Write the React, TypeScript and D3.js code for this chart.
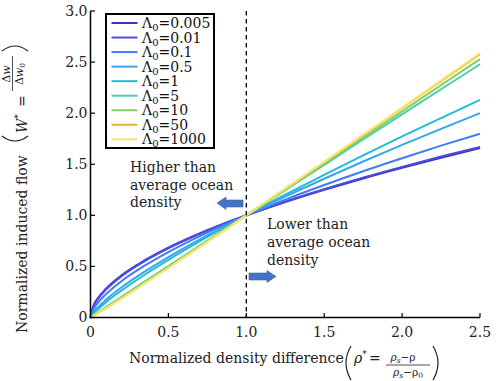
import React from "react";
import * as d3 from "d3";

// sampled curve positions (normalized density difference)
const rhoStar = [0, 0.02, 0.05, 0.1, 0.2, 0.35, 0.5, 0.75, 1, 1.25, 1.5, 1.75, 2, 2.25, 2.5];

const lambdaLabels = ["0.005", "0.01", "0.1", "0.5", "1", "5", "10", "50", "1000"];
const lineColors = ["#3f30c0", "#4b4de6", "#3f7cf6", "#37a6ee", "#20bcd6", "#47d0a6", "#84d064", "#e2b627", "#fbe36c"];

const w0005 = [0, 0.115, 0.191, 0.28, 0.411, 0.559, 0.682, 0.853, 1, 1.131, 1.251, 1.363, 1.467, 1.566, 1.66];
const w001 = [0, 0.112, 0.187, 0.275, 0.406, 0.555, 0.678, 0.851, 1, 1.133, 1.255, 1.369, 1.474, 1.575, 1.67];
const w01 = [0, 0.081, 0.147, 0.229, 0.357, 0.51, 0.641, 0.831, 1, 1.154, 1.297, 1.432, 1.559, 1.682, 1.799];
const w05 = [0, 0.052, 0.104, 0.175, 0.296, 0.452, 0.592, 0.804, 1, 1.184, 1.358, 1.527, 1.689, 1.846, 2.0];
const w1 = [0, 0.04, 0.084, 0.15, 0.265, 0.421, 0.564, 0.788, 1, 1.202, 1.397, 1.587, 1.772, 1.952, 2.13];
const w5 = [0, 0.021, 0.051, 0.102, 0.203, 0.353, 0.503, 0.752, 1, 1.247, 1.494, 1.742, 1.988, 2.234, 2.479];
const w10 = [0, 0.019, 0.048, 0.097, 0.196, 0.345, 0.496, 0.747, 1, 1.254, 1.507, 1.763, 2.018, 2.275, 2.529];
const w50 = [0, 0.018, 0.045, 0.092, 0.189, 0.338, 0.488, 0.742, 1, 1.26, 1.52, 1.784, 2.048, 2.314, 2.578];
const w1000 = [0, 0.018, 0.045, 0.091, 0.188, 0.337, 0.487, 0.741, 1, 1.261, 1.523, 1.787, 2.053, 2.32, 2.586];
const seriesValues = [w0005, w001, w01, w05, w1, w5, w10, w50, w1000];

const xTicks = [0, 0.5, 1, 1.5, 2, 2.5];
const yTicks = [0, 0.5, 1, 1.5, 2, 2.5, 3];

const FONT = "DejaVu Serif";

export default function App() {
  const width = 496, height = 381;
  const x = d3.scaleLinear().domain([0, 2.5]).range([90.5, 480]);
  const y = d3.scaleLinear().domain([0, 3]).range([317.5, 11]);
  const fmt = (v: number) => (v === 0 ? "0" : d3.format(".1f")(v));

  const line = d3.line<number>()
    .x((_, i) => x(rhoStar[i]))
    .y(d => y(d))
    .curve(d3.curveMonotoneX);

  const legendRow = d3.scalePoint<string>().domain(lambdaLabels).range([23, 139.3]);

  return (
    <svg width={width} height={height} style={{ position: "absolute", left: 0, top: 0 }}
      fontFamily={FONT} fontSize={14}>
      <rect width={width} height={height} fill="#fff" />

      {/* curves */}
      {seriesValues.map((vals, i) => (
        <path key={i} d={line(vals) ?? ""} fill="none" stroke={lineColors[i]}
          strokeWidth={i === 0 ? 2.4 : 2} />
      ))}

      {/* dashed line at rho* = 1 */}
      <line x1={x(1)} x2={x(1)} y1={y(3)} y2={y(0)} stroke="#000" strokeWidth={1.3} strokeDasharray="4.5,3.5" />

      {/* axes */}
      <line x1={x(0)} x2={x(0)} y1={y(3)} y2={y(0) + 0.75} stroke="#000" strokeWidth={1.5} />
      <line x1={x(0) - 0.75} x2={x(2.5)} y1={y(0)} y2={y(0)} stroke="#000" strokeWidth={1.5} />
      {yTicks.map(t => (
        <g key={"y" + t}>
          <line x1={x(0)} x2={x(0) + 4.5} y1={y(t)} y2={y(t)} stroke="#000" strokeWidth={1.2} />
          <text x={x(0) - 3} y={y(t)} dy="0.35em" textAnchor="end" fill="#222">{fmt(t)}</text>
        </g>
      ))}
      {xTicks.map(t => (
        <g key={"x" + t}>
          <line x1={x(t)} x2={x(t)} y1={y(0)} y2={y(0) - 4.5} stroke="#000" strokeWidth={1.2} />
          <text x={x(t)} y={y(0) + 19} textAnchor="middle" fill="#222">{fmt(t)}</text>
        </g>
      ))}

      {/* legend */}
      <rect x={106} y={14} width={108} height={134} fill="#fff" stroke="#000" strokeWidth={2} />
      {lambdaLabels.map((lab, i) => (
        <g key={lab} transform={`translate(0,${legendRow(lab)})`}>
          <line x1={111.5} x2={137.5} y1={0} y2={0} stroke={lineColors[i]} strokeWidth={2} />
          <text x={142} y={5} fill="#111">
            Λ<tspan fontSize={10} dy={3}>0</tspan><tspan dy={-3}>={lab}</tspan>
          </text>
        </g>
      ))}

      {/* annotations */}
      <g fill="#222" fontSize={14}>
        <text x={130} y={172}>Higher than</text>
        <text x={130} y={190}>average ocean</text>
        <text x={130} y={207}>density</text>
        <text x={267} y={229}>Lower than</text>
        <text x={267} y={247}>average ocean</text>
        <text x={267} y={265}>density</text>
      </g>
      <path d="M217,203 L226,197 L226,200 L243,200 L243,207 L226,207 L226,209.5 Z" fill="#4472c4" stroke="#3a62a8" strokeWidth={0.6} />
      <path d="M276,276.5 L267,270.5 L267,273 L249,273 L249,280 L267,280 L267,282.5 Z" fill="#4472c4" stroke="#3a62a8" strokeWidth={0.6} />

      {/* x label */}
      <g fill="#222">
        <text x={129} y={363}>Normalized density difference</text>
        <path d="M351,346 Q341,363 351,380" fill="none" stroke="#222" strokeWidth={1.2} />
        <text x={354} y={363} fontStyle="italic">ρ<tspan fontSize={9} dy={-6}>*</tspan></text>
        <text x={369} y={363}>=</text>
        <text x={403} y={361} fontSize={10.5} textAnchor="middle" fontStyle="italic">ρ<tspan fontSize={7.5} dy={2}>s</tspan><tspan dy={-2} fontStyle="normal">−ρ</tspan></text>
        <line x1={386} x2={430} y1={365} y2={365} stroke="#222" strokeWidth={0.8} />
        <text x={408} y={376} fontSize={10.5} textAnchor="middle" fontStyle="italic">ρ<tspan fontSize={7.5} dy={2}>s</tspan><tspan dy={-2} fontStyle="normal">−ρ</tspan><tspan fontSize={7.5} dy={2} fontStyle="normal">0</tspan></text>
        <path d="M433,346 Q443,363 433,380" fill="none" stroke="#222" strokeWidth={1.2} />
      </g>

      {/* y label */}
      <g fill="#222" transform="translate(27,0) rotate(-90)">
        <text x={-333} y={0}>Normalized induced flow</text>
        <path d="M-136,-25 Q-146,-12 -136,1" fill="none" stroke="#222" strokeWidth={1.2} />
        <text x={-133} y={0} fontStyle="italic">W<tspan fontSize={9} dy={-6}>*</tspan></text>
        <text x={-107} y={0}>=</text>
        <text x={-74} y={-17} fontSize={11} textAnchor="middle">Δ<tspan fontStyle="italic">w</tspan></text>
        <line x1={-91} x2={-56} y1={-14.5} y2={-14.5} stroke="#222" strokeWidth={0.8} />
        <text x={-74} y={-4} fontSize={11} textAnchor="middle">Δ<tspan fontStyle="italic">w</tspan><tspan fontSize={7.5} dy={2}>0</tspan></text>
        <path d="M-51,-25 Q-41,-12 -51,1" fill="none" stroke="#222" strokeWidth={1.2} />
      </g>
    </svg>
  );
}
